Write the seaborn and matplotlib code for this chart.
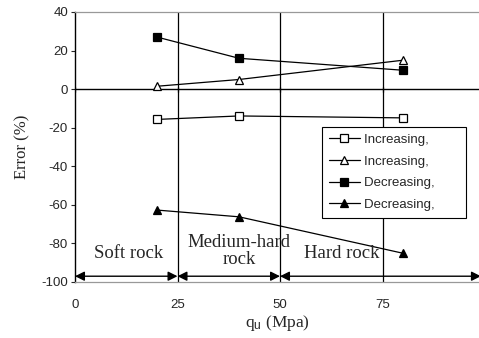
import matplotlib
matplotlib.use("Agg")
import matplotlib.pyplot as plt
import seaborn as sns
import pandas as pd

# ---- data ----
qu = [20, 40, 80]
inc_square = [-15.7, -13.9, -14.9]
inc_triangle = [1.5, 5.0, 15.0]
dec_square = [27.0, 16.0, 9.8]
dec_triangle = [-62.7, -66.2, -85.1]
labels = ["Increasing,", "Increasing,", "Decreasing,", "Decreasing,"]
x_ticks = [0, 25, 50, 75]
y_ticks = [40, 20, 0, -20, -40, -60, -80, -100]
zone_bounds = [0, 25, 50, 99]
zone_names = ["Soft rock", "Medium-hard\nrock", "Hard rock"]

sns.set_theme(style="white")
plt.rcParams["font.family"] = ["Liberation Sans", "DejaVu Sans"]
plt.rcParams["axes.unicode_minus"] = False
plt.rcParams["mathtext.fontset"] = "custom"
plt.rcParams["mathtext.rm"] = "Liberation Serif"
plt.rcParams["mathtext.sf"] = "Liberation Sans"
plt.rcParams["mathtext.it"] = "Liberation Serif:italic"

fig = plt.figure(figsize=(4.79, 3.38), dpi=100)
ax = fig.add_axes([75 / 479, 1 - 282 / 338, 1 - 75 / 479 + 0.004, (282 - 12) / 338])

styles = [
    dict(marker="s", mfc="white"),
    dict(marker="^", mfc="white"),
    dict(marker="s", mfc="black"),
    dict(marker="^", mfc="black"),
]
series = [inc_square, inc_triangle, dec_square, dec_triangle]
for vals, st, lab in zip(series, styles, labels):
    df = pd.DataFrame({"x": qu, "y": vals})
    sns.lineplot(data=df, x="x", y="y", ax=ax, color="black", linewidth=0.9,
                 marker=st["marker"], markerfacecolor=st["mfc"],
                 markeredgecolor="black", markersize=5.5, markeredgewidth=0.9,
                 label=lab + "\u00a0" * 7)

ax.set_xlim(0, 99)
ax.set_ylim(-100, 40)

# vertical zone lines and zero line
for xv in x_ticks[1:]:
    ax.axvline(xv, color="black", linewidth=0.9, zorder=1)
ax.axhline(0, color="black", linewidth=1.0, zorder=1)
for xv in x_ticks:
    ax.plot([xv, xv], [-1.3, 1.3], color="black", linewidth=0.9, zorder=1)

# zone arrows
for a, b in zip(zone_bounds[:-1], zone_bounds[1:]):
    ax.annotate("", xy=(a, -97), xytext=(b, -97),
                arrowprops=dict(arrowstyle="<|-|>", color="black", lw=1.0,
                                mutation_scale=14, shrinkA=0, shrinkB=0))
zone_pos = [(13, -85), (40, -84), (65, -85)]
for (xp, yp), name in zip(zone_pos, zone_names):
    ax.text(xp, yp, name, ha="center", va="center", fontsize=13.5,
            family=["Liberation Serif", "DejaVu Serif"], linespacing=0.95)

ax.set_xticks(x_ticks)
ax.set_yticks(y_ticks)
ax.tick_params(axis="x", length=0, pad=12, labelsize=9.5)
ax.tick_params(axis="y", length=3, width=0.8, direction="out", left=True, labelsize=9.5, pad=2)

for s in ["top", "bottom", "right"]:
    ax.spines[s].set_color("#999999")
    ax.spines[s].set_linewidth(0.9)
ax.spines["left"].set_color("black")
ax.spines["left"].set_linewidth(1.0)

ax.set_xlabel(r"$\mathrm{q}_{\mathsf{u}}$ (Mpa)", fontsize=12.5,
              family=["Liberation Serif", "DejaVu Serif"], labelpad=2)
ax.set_ylabel("Error (%)", fontsize=12, family=["Liberation Serif", "DejaVu Serif"], labelpad=8)

leg = ax.legend(loc="upper left", bbox_to_anchor=((322 - 75) / 406, 1 - (127 - 12) / 270),
                frameon=True, fontsize=9.5, fancybox=False, borderpad=0.5,
                handlelength=2.35, handletextpad=0.3, labelspacing=0.72, borderaxespad=0,
                markerscale=1.0)
leg.get_frame().set_edgecolor("black")
leg.get_frame().set_linewidth(0.8)
leg.get_frame().set_alpha(1)

fig.savefig("out.png", dpi=100)
